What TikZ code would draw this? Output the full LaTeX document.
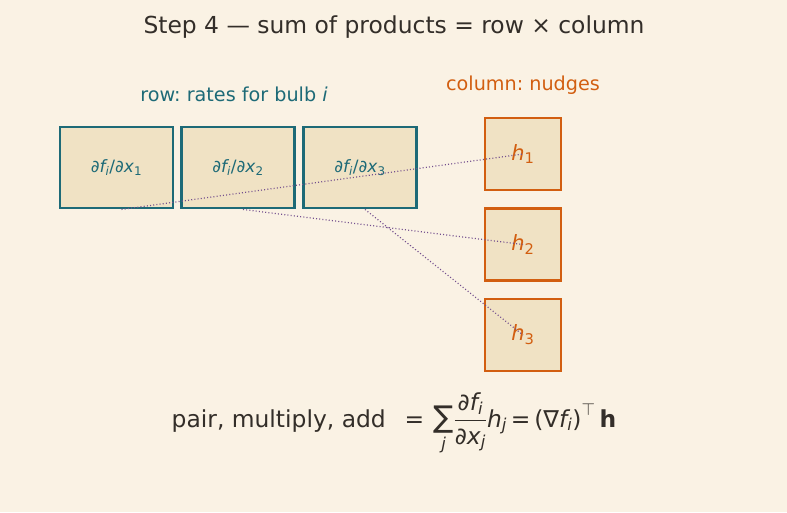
\documentclass[tikz,border=0pt]{standalone}
\usepackage{fontspec}
\usepackage{amsmath}
\setmainfont{DejaVu Sans}
\frenchspacing
\usetikzlibrary{calc}
\definecolor{paper}{HTML}{FAF2E4}
\definecolor{cell}{HTML}{F0E2C4}
\definecolor{teal1}{HTML}{1D6A77}
\definecolor{rust}{HTML}{D25E10}
\definecolor{plum}{HTML}{74508E}
\definecolor{ink}{HTML}{332E29}
\newcommand{\vt}[1]{\text{\itshape #1}}

\begin{document}
\begin{tikzpicture}[x=1pt,y=-1pt,
  rowbox/.style={draw=teal1, line width=2.9pt, fill=cell, minimum width=113pt, minimum height=81pt, inner sep=0pt, text=teal1, font=\fontsize{17}{19}\selectfont},
  colbox/.style={draw=rust, line width=2.9pt, fill=cell, minimum width=76pt, minimum height=72pt, inner sep=0pt, text=rust, font=\fontsize{21}{23}\selectfont},
  pairline/.style={plum, line width=1.2pt, dash pattern=on 1pt off 2.2pt}]
\fill[paper] (0,0) rectangle (787,512);
\node[text=ink, font=\fontsize{23.4}{28}\selectfont] (title) at (394,27) {Step 4 — sum of products = row × column};
\node[text=teal1, font=\fontsize{19.2}{22}\selectfont] (rowlab) at (234,94) {row: rates for bulb \textit{i}};
\node[text=rust, font=\fontsize{19.2}{22}\selectfont] (collab) at (523,85) {column: nudges};
% row of partials
\foreach \j/\x in {1/116.5,2/238,3/360}
  \node[rowbox] (r\j) at (\x,167.5) {$\vt{∂f}_{\vt{i}}\text{/}\vt{∂x}_{\text{\j}}$};
% column of nudges
\foreach \j/\y in {1/154,2/244.5,3/335}
  \node[colbox] (h\j) at (523,\y) {$\vt{h}_{\text{\j}}$};
\foreach \j in {1,2,3}
  \draw[pairline] ($(r\j.south)+(5,0)$) -- (h\j.center);
\node[text=ink, font=\fontsize{23.4}{28}\selectfont, anchor=base] (sumline) at (394,427)
  {pair, multiply, add\hspace{0.8em}=\hspace{0.4em}$\mathop{\text{\fontsize{30}{30}\selectfont ∑}}\limits_{\vt{j}}\!\dfrac{\vt{∂f}_{\vt{i}}}{\vt{∂x}_{\vt{j}}}\vt{h}_{\vt{j}}$\,=\,$\text{(∇}\vt{f}_{\vt{i}}\text{)}^{\top}\,\textbf{h}$};
\end{tikzpicture}
\end{document}
